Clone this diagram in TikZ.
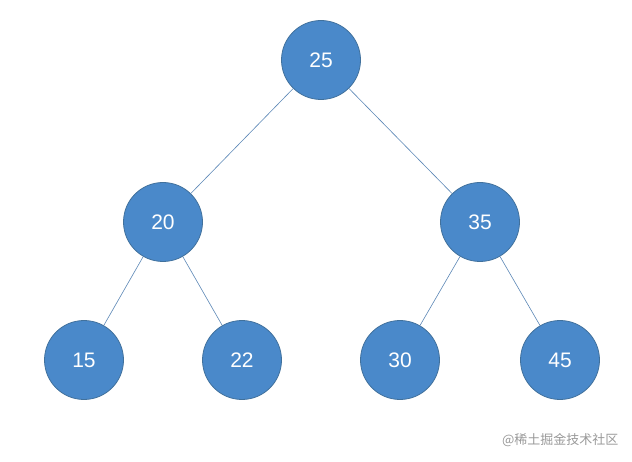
\documentclass[tikz,border=0pt]{standalone}
\usepackage{fontspec}
\setmainfont{Liberation Sans}
\newfontfamily\cjk{Noto Sans CJK SC}
\definecolor{nfill}{HTML}{4A89CA}
\definecolor{nline}{HTML}{41719C}
\definecolor{eline}{HTML}{5A86B5}
\begin{document}
\begin{tikzpicture}[x=1pt,y=-1pt,
  tn/.style={circle,draw=nline,line width=0.8pt,fill=nfill,minimum size=79pt,inner sep=0pt,text=white,font=\fontsize{21}{24}\selectfont},
  ed/.style={draw=eline,line width=0.6pt}]
\useasboundingbox (0,0) rectangle (632,462);
\node[tn] (a) at (321,60) {25};
\node[tn] (b) at (163,222) {20};
\node[tn] (c) at (480,222) {35};
\node[tn] (d) at (84,360) {15};
\node[tn] (e) at (242,360) {22};
\node[tn] (f) at (400,360) {30};
\node[tn] (g) at (560,360) {45};
\draw[ed] (a) -- (b); \draw[ed] (a) -- (c);
\draw[ed] (b) -- (d); \draw[ed] (b) -- (e);
\draw[ed] (c) -- (f); \draw[ed] (c) -- (g);
\node[text=gray!80,font=\cjk\fontsize{13}{15}\selectfont,anchor=east] (w) at (622,440) {@稀土掘金技术社区};
\end{tikzpicture}
\end{document}
